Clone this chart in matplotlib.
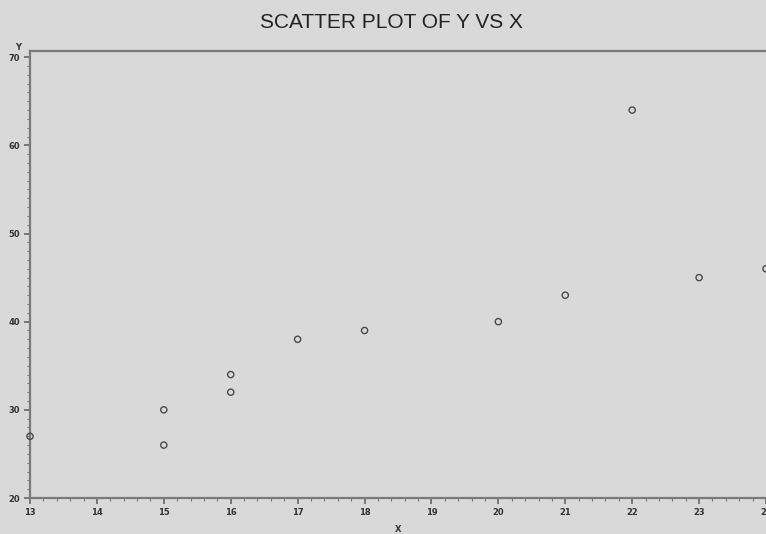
import numpy as np
import matplotlib.pyplot as plt
from matplotlib.ticker import MultipleLocator

# data
x = [13, 15, 15, 16, 16, 17, 18, 20, 21, 22, 23, 24]
y = [27, 30, 26, 34, 32, 38, 39, 40, 43, 64, 45, 46]
xticks = list(range(13, 25))
yticks = [20, 30, 40, 50, 60, 70]

bg = '#d9d9d9'
fig = plt.figure(figsize=(7.66, 5.34), dpi=100, facecolor=bg)
ax = fig.add_axes([30/766, 1 - 498/534, 1 - 30/766, (498 - 51)/534])
ax.set_facecolor(bg)

ax.scatter(x, y, s=20, facecolors='none', edgecolors='#4a4a4a', linewidths=1.0,
           clip_on=False, zorder=3)

ax.set_xlim(13, 24)
ax.set_ylim(20, 70.7)
ax.set_xticks(xticks)
ax.set_yticks(yticks)
ax.xaxis.set_minor_locator(MultipleLocator(0.2))
ax.yaxis.set_minor_locator(MultipleLocator(1))

for s in ['left', 'bottom', 'top']:
    ax.spines[s].set_color('#7a7a7a')
    ax.spines[s].set_linewidth(1.6)
ax.spines['right'].set_visible(False)

ax.tick_params(which='major', direction='out', length=4, width=1.2, color='#666666',
               labelsize=6, labelcolor='#333333', pad=3)
ax.tick_params(which='minor', direction='out', length=2, width=0.8, color='#777777')
for lab in ax.get_xticklabels() + ax.get_yticklabels():
    lab.set_fontweight('bold')

fig.text(391/766, 1 - 22/534, 'SCATTER PLOT OF Y VS X', ha='center', va='center',
         fontsize=15, family='Liberation Sans', color='#222222')
fig.text(398/766, 1 - 530/534, 'X', ha='center', va='center', fontsize=6,
         fontweight='bold', color='#333333')
fig.text(18/766, 1 - 47/534, 'Y', ha='center', va='center', fontsize=6,
         fontweight='bold', color='#333333')

fig.savefig('out.png', dpi=100, facecolor=bg)
